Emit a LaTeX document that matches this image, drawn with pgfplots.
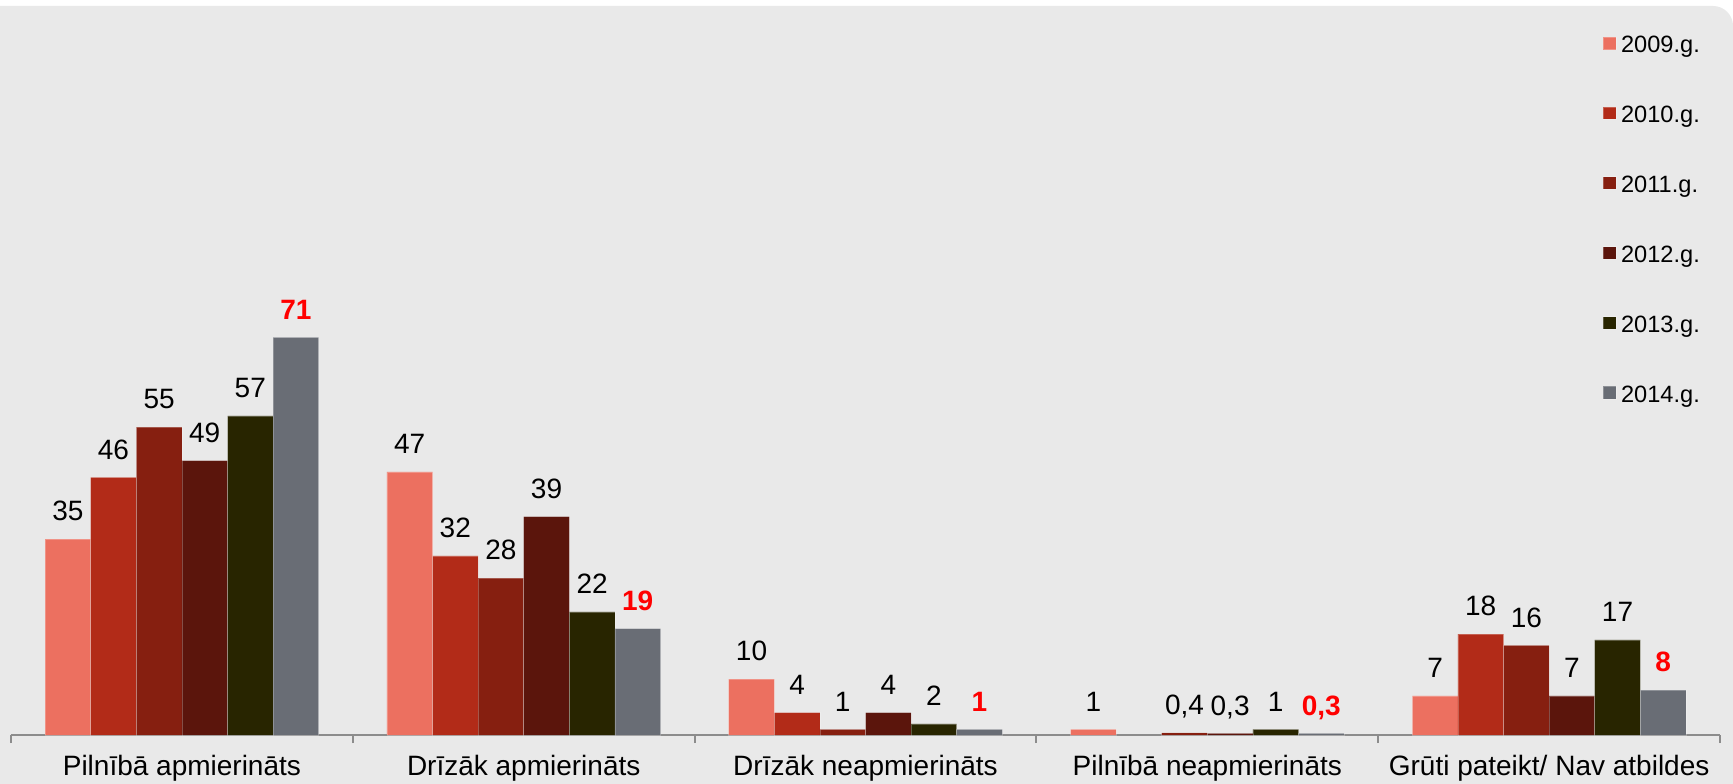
\documentclass[border=0pt]{standalone}
\usepackage{fontspec}
\setmainfont{Liberation Sans}
\usepackage{pgfplots}
\pgfplotsset{compat=1.18}

\definecolor{c2009}{HTML}{EC7060}
\definecolor{c2010}{HTML}{B22B18}
\definecolor{c2011}{HTML}{861F10}
\definecolor{c2012}{HTML}{5B150C}
\definecolor{c2013}{HTML}{282500}
\definecolor{c2014}{HTML}{696D75}
\definecolor{panel}{HTML}{E9E9E9}
\definecolor{axisgray}{HTML}{8C8C8C}

\begin{document}
\begin{tikzpicture}
\useasboundingbox (0,0) rectangle (866.5pt,391.5pt);
\fill[white] (0,0) rectangle (866.5pt,391.5pt);
\fill[panel, rounded corners=10pt] (-20pt,-20pt) rectangle (866.5pt,388.5pt);
\begin{axis}[
  at={(5.5pt,24pt)}, anchor=south west,
  scale only axis, width=854.5pt, height=358.4pt,
  xmin=-0.5, xmax=4.5, ymin=0, ymax=128,
  ybar=0pt, bar width=22.8pt,
  axis x line*=bottom, axis y line=none,
  axis line style={axisgray, line width=1pt},
  ytick=\empty,
  xtick={0,...,4},
  xticklabels={Pilnībā apmierināts, Drīzāk apmierināts, Drīzāk neapmierināts, Pilnībā neapmierināts, Grūti pateikt/ Nav atbildes},
  major tick length=0pt,
  minor xtick={-0.5,0.5,...,4.5},
  minor tick length=4pt,
  tick align=outside,
  minor tick style={axisgray, line width=1pt},
  xticklabel style={font=\fontsize{14}{16}\selectfont, anchor=base, yshift=-20pt, inner sep=0pt},
  nodes near coords,
  nodes near coords style={font=\fontsize{14}{16}\selectfont, anchor=south, inner sep=0pt, text depth=0pt, yshift=9pt, text=black},
  /pgf/number format/use comma,
  /pgf/number format/assume math mode=true,
  legend style={at={(0.9310,0.9763)}, anchor=north west, draw=none, fill=none,
    font=\fontsize{11.8}{13}\selectfont, row sep=23.95pt, inner sep=0pt,
    nodes={inner sep=0pt, text height=8.5pt, text depth=2.5pt}},
  legend cell align=left,
  legend image code/.code={\fill[#1] (0pt,-1.5pt) rectangle (6.5pt,4.8pt); \path (9pt,0pt);},
  every axis plot/.append style={draw=white, draw opacity=0.25, line width=0.3pt},
]
\addplot[fill=c2009] coordinates {(0,35) (1,47) (2,10) (3,1) (4,7)};
\addplot[fill=c2010] coordinates {(0,46) (1,32) (2,4) (4,18)};
\addplot[fill=c2011] coordinates {(0,55) (1,28) (2,1) (3,0.4) (4,16)};
\addplot[fill=c2012] coordinates {(0,49) (1,39) (2,4) (3,0.3) (4,7)};
\addplot[fill=c2013] coordinates {(0,57) (1,22) (2,2) (3,1) (4,17)};
\addplot[fill=c2014, every node near coord/.append style={text=red, font=\bfseries\fontsize{14}{16}\selectfont}] coordinates {(0,71) (1,19) (2,1) (3,0.3) (4,8)};
\legend{2009.g., 2010.g., 2011.g., 2012.g., 2013.g., 2014.g.}
\end{axis}
\end{tikzpicture}
\end{document}
